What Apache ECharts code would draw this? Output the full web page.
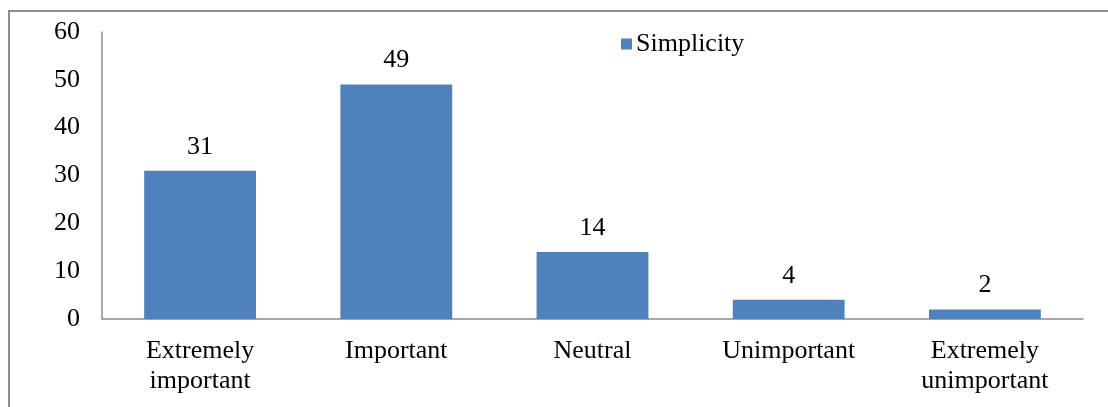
<!DOCTYPE html>
<html>
<head>
<meta charset="utf-8">
<script src="https://cdn.jsdelivr.net/npm/echarts@6/dist/echarts.min.js"></script>
<style>
  html, body { margin: 0; padding: 0; background: #fff; }
  #chart { width: 1108px; height: 407px; }
</style>
</head>
<body>
<div id="chart"></div>
<script>
// Survey responses on the importance of simplicity
const categories = ['Extremely\nimportant', 'Important', 'Neutral', 'Unimportant', 'Extremely\nunimportant'];
const simplicity = [31, 49, 14, 4, 2];
const seriesName = 'Simplicity';

const serif = '"Liberation Serif", "DejaVu Serif", serif';
const chart = echarts.init(document.getElementById('chart'));

chart.setOption({
  animation: false,
  backgroundColor: '#fff',
  graphic: [{
    type: 'rect',
    shape: { x: 9, y: 11, width: 1200, height: 500 },
    style: { fill: 'none', stroke: '#8c8c8c', lineWidth: 2 },
    silent: true
  }],
  legend: {
    data: [seriesName],
    left: 616,
    top: 26,
    itemWidth: 11,
    itemHeight: 11,
    itemGap: 6,
    icon: 'rect',
    textStyle: { fontFamily: serif, fontSize: 26, color: '#000', padding: [0, 0, 0, -1] }
  },
  grid: { left: 102, right: 25, top: 32, bottom: 88 },
  xAxis: {
    type: 'category',
    data: categories,
    axisLine: { lineStyle: { color: '#8c8c8c', width: 1.5 } },
    axisTick: { show: false },
    axisLabel: {
      interval: 0,
      margin: 17,
      lineHeight: 30,
      fontFamily: serif,
      fontSize: 26,
      color: '#000'
    }
  },
  yAxis: {
    type: 'value',
    min: 0,
    max: 60,
    interval: 10,
    axisLine: { show: true, lineStyle: { color: '#8c8c8c', width: 1.5 } },
    axisTick: { show: false },
    splitLine: { show: false },
    axisLabel: { margin: 22, fontFamily: serif, fontSize: 26, color: '#000' }
  },
  series: [{
    name: seriesName,
    type: 'bar',
    data: simplicity,
    barWidth: '57%',
    itemStyle: { color: '#4f81bd' },
    label: {
      show: true,
      position: 'top',
      distance: 11,
      fontFamily: serif,
      fontSize: 26,
      color: '#000'
    }
  }]
});
</script>
</body>
</html>
